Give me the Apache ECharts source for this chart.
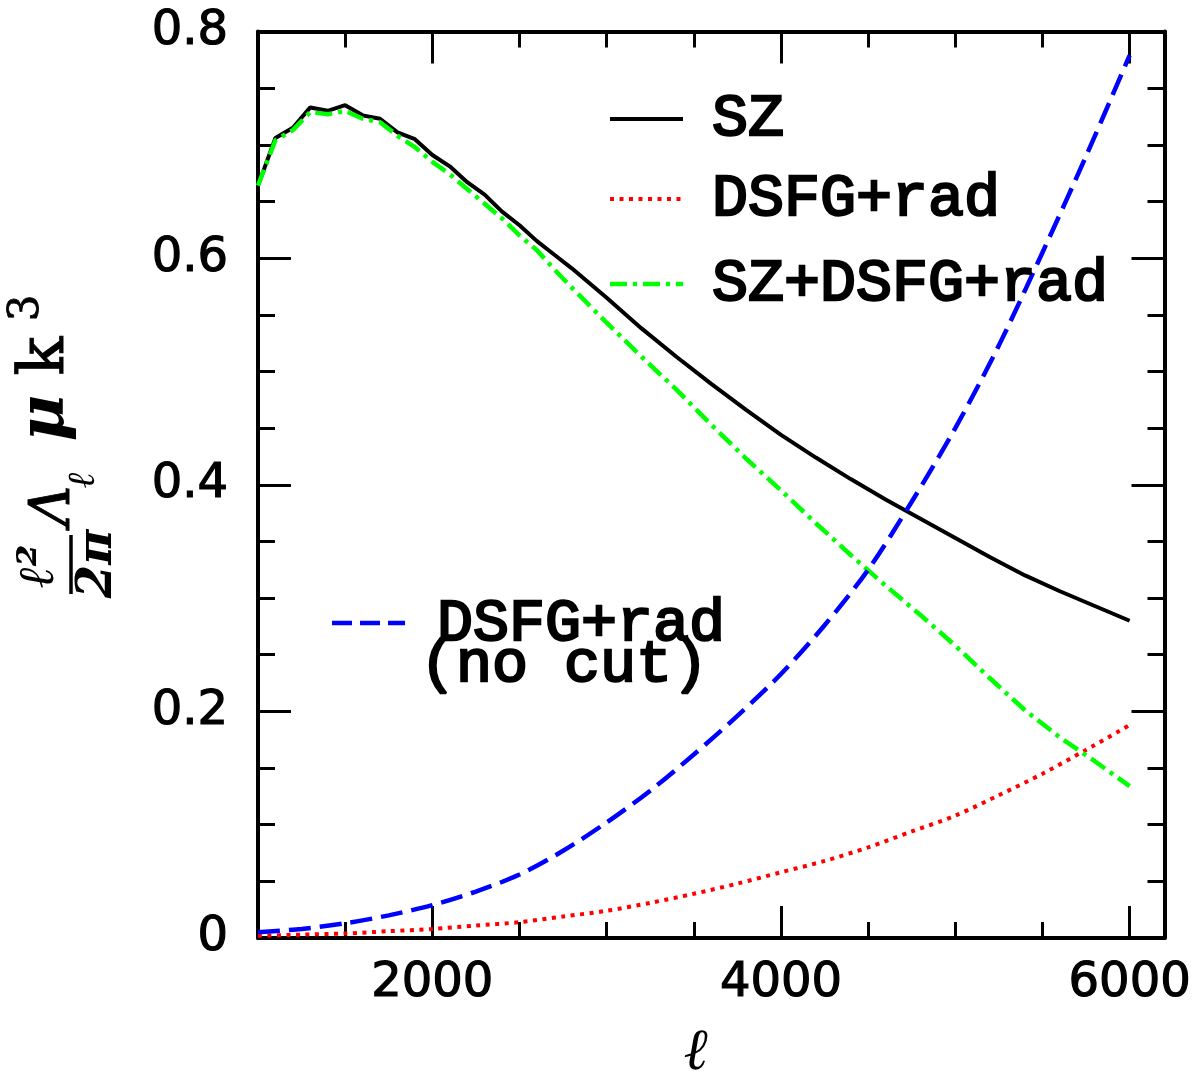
<!DOCTYPE html>
<html>
<head>
<meta charset="utf-8">
<script src="https://cdn.jsdelivr.net/npm/echarts@6/dist/echarts.min.js"></script>
<style>
  html, body { margin: 0; padding: 0; background: #ffffff; }
  #chart { width: 1197px; height: 1075px; }
</style>
</head>
<body>
<div id="chart"></div>
<script>
// Multipole values and amplitudes, (l^2 / 2pi) Lambda_l in uK^3
const szEll = [1000, 1100, 1200, 1300, 1400, 1500, 1600, 1700, 1800, 1900,
               2000, 2100, 2200, 2300, 2400, 2500, 2600, 2700, 2800,
               3000, 3200, 3400, 3600, 3800, 4000, 4200, 4400, 4600, 4800,
               5000, 5200, 5400, 5600, 5800, 6000];
const szVals = [0.664, 0.706, 0.715, 0.733, 0.730, 0.735, 0.726, 0.723, 0.711, 0.705,
                0.691, 0.681, 0.667, 0.656, 0.641, 0.629, 0.615, 0.603, 0.591,
                0.565, 0.538, 0.513, 0.489, 0.466, 0.444, 0.424, 0.405, 0.387, 0.370,
                0.353, 0.336, 0.320, 0.306, 0.293, 0.280];
const totVals = [0.664, 0.704, 0.713, 0.729, 0.727, 0.730, 0.723, 0.720, 0.708, 0.698,
                 0.685, 0.674, 0.661, 0.648, 0.635, 0.620, 0.607, 0.590, 0.574,
                 0.543, 0.513, 0.484, 0.453, 0.423, 0.395, 0.366, 0.338, 0.311, 0.285,
                 0.258, 0.229, 0.201, 0.177, 0.156, 0.134];

const srcEll = [1000, 1250, 1500, 1750, 2000, 2250, 2500, 2750, 3000, 3250, 3500,
                3750, 4000, 4250, 4500, 4750, 5000, 5250, 5500, 5750, 6000];
const radVals = [0.002, 0.003, 0.004, 0.006, 0.008, 0.011, 0.014, 0.019, 0.024, 0.031, 0.039,
                 0.048, 0.058, 0.068, 0.080, 0.094, 0.108, 0.126, 0.145, 0.166, 0.188];
const noCutVals = [0.005, 0.008, 0.013, 0.020, 0.029, 0.041, 0.056, 0.077, 0.102, 0.130, 0.162,
                   0.196, 0.233, 0.276, 0.325, 0.385, 0.450, 0.523, 0.605, 0.690, 0.779];

// Tick positions
const xMajor = [2000, 4000, 6000];
const xMinor = [1500, 2500, 3000, 3500, 4500, 5000, 5500];
const yLabels = [0, 0.2, 0.4, 0.6, 0.8];
const yMajor = [0.2, 0.4, 0.6];
const yMinor = [0.05, 0.1, 0.15, 0.25, 0.3, 0.35, 0.45, 0.5, 0.55, 0.65, 0.7, 0.75];

const pairs = (xs, ys) => xs.map((x, i) => [x, ys[i]]);

const X_MIN = 1000, X_MAX = 6200, Y_MIN = 0, Y_MAX = 0.8;
const frame = { show: true, onZero: false, lineStyle: { color: '#000', width: 4 } };
const noLine = { show: false, onZero: false };
const tickFont = { fontFamily: 'DejaVu Sans', fontSize: 48, color: '#000',
                   textBorderColor: '#000', textBorderWidth: 1.2 };

function xAx(pos, ticks, len, withLine, labels) {
  return {
    type: 'value', position: pos, min: X_MIN, max: X_MAX,
    axisLine: withLine ? frame : noLine,
    splitLine: { show: false },
    axisTick: { show: true, inside: true, length: len, customValues: ticks,
                lineStyle: { color: '#000', width: 3 } },
    axisLabel: labels ? Object.assign({ show: true, customValues: labels, margin: 22,
                formatter: v => String(v) }, tickFont) : { show: false }
  };
}
function yAx(pos, ticks, len, withLine, labels) {
  return {
    type: 'value', position: pos, min: Y_MIN, max: Y_MAX,
    axisLine: withLine ? frame : noLine,
    splitLine: { show: false },
    axisTick: { show: true, inside: true, length: len, customValues: ticks,
                lineStyle: { color: '#000', width: 3 } },
    axisLabel: labels ? Object.assign({ show: true, customValues: labels, margin: 30,
                formatter: v => String(v) }, tickFont) : { show: false }
  };
}

const serif = '"DejaVu Serif"';
const legendFont = '60px "Liberation Mono"';

function txt(x, y, text, font, align, vAlign, rotation, border) {
  return {
    type: 'text', x: x, y: y, rotation: rotation || 0, z: 10,
    style: { text: text, font: font, fill: '#000',
             stroke: border ? '#000' : null, lineWidth: border || 0,
             align: align, textAlign: align,
             verticalAlign: vAlign, textVerticalAlign: vAlign }
  };
}
function seg(x1, y1, x2, y2, color, width, dash) {
  return {
    type: 'line', z: 10,
    shape: { x1: x1, y1: y1, x2: x2, y2: y2 },
    style: { stroke: color, lineWidth: width, lineDash: dash || null, lineCap: 'butt' }
  };
}

const R = Math.PI / 2;

const option = {
  backgroundColor: '#ffffff',
  animation: false,
  grid: { left: 258, top: 31.5, width: 906.5, height: 906.5, containLabel: false },
  xAxis: [
    xAx('bottom', xMajor, 32, true, xMajor),
    xAx('bottom', xMinor, 16, false, null),
    xAx('top', xMajor, 32, true, null),
    xAx('top', xMinor, 16, false, null)
  ],
  yAxis: [
    yAx('left', yMajor, 33, true, yLabels),
    yAx('left', yMinor, 17, false, null),
    yAx('right', yMajor, 33, true, null),
    yAx('right', yMinor, 17, false, null)
  ],
  series: [
    { name: 'SZ', type: 'line', xAxisIndex: 0, yAxisIndex: 0, showSymbol: false, symbol: 'none',
      data: pairs(szEll, szVals), lineStyle: { color: '#000000', width: 4 } },
    { name: 'DSFG+rad', type: 'line', xAxisIndex: 0, yAxisIndex: 0, showSymbol: false, symbol: 'none',
      data: pairs(srcEll, radVals), smooth: 0.3,
      lineStyle: { color: '#ff0000', width: 4, type: [4, 5.5], cap: 'butt' } },
    { name: 'SZ+DSFG+rad', type: 'line', xAxisIndex: 0, yAxisIndex: 0, showSymbol: false, symbol: 'none',
      data: pairs(szEll, totVals),
      lineStyle: { color: '#00ff00', width: 4.5, type: [17, 6, 4, 6], cap: 'butt' } },
    { name: 'DSFG+rad (no cut)', type: 'line', xAxisIndex: 0, yAxisIndex: 0, showSymbol: false, symbol: 'none',
      data: pairs(srcEll, noCutVals), smooth: 0.3,
      lineStyle: { color: '#0000ff', width: 4.5, type: [22, 9], cap: 'butt' } }
  ],
  graphic: { elements: [
    // key, upper right
    seg(610, 119, 683, 119, '#000000', 4),
    txt(712, 119, 'SZ', legendFont, 'left', 'middle', 0, 2.4),
    seg(610, 199, 683, 199, '#ff0000', 4, [4, 5.5]),
    txt(712, 199, 'DSFG+rad', legendFont, 'left', 'middle', 0, 2.4),
    seg(610, 284, 683, 284, '#00ff00', 4.5, [17, 6, 4, 6]),
    txt(712, 284, 'SZ+DSFG+rad', legendFont, 'left', 'middle', 0, 2.4),
    // key for the uncut source curve
    seg(332, 623, 405, 623, '#0000ff', 4.5, [20, 8]),
    txt(437, 624, 'DSFG+rad', legendFont, 'left', 'middle', 0, 2.4),
    txt(420, 665, '(no cut)', legendFont, 'left', 'middle', 0, 2.4),
    // x axis title
    txt(697, 1054, 'ℓ', 'bold italic 58px ' + serif, 'center', 'middle'),
    // y axis title, rotated: (l^2 / 2pi) Lambda_l  uK^3
    seg(71, 535, 71, 594, '#000000', 3.5),
    txt(40, 566, 'ℓ²', 'bold italic 50px ' + serif, 'center', 'middle', R),
    txt(99, 564, '2π', 'bold italic 48px ' + serif, 'center', 'middle', R),
    txt(54, 506, 'Λ', 'italic 56px ' + serif, 'center', 'middle', R, 1),
    txt(84, 480, 'ℓ', 'bold italic 38px ' + serif, 'center', 'middle', R),
    txt(46, 418, 'μ', 'bold italic 64px ' + serif, 'center', 'middle', R),
    txt(46, 356, 'k', '64px ' + serif, 'center', 'middle', R, 1),
    txt(27, 308, '3', '42px ' + serif, 'center', 'middle', R, 0.8)
  ] }
};

const chart = echarts.init(document.getElementById('chart'), null, { renderer: 'canvas' });
chart.setOption(option);
</script>
</body>
</html>
